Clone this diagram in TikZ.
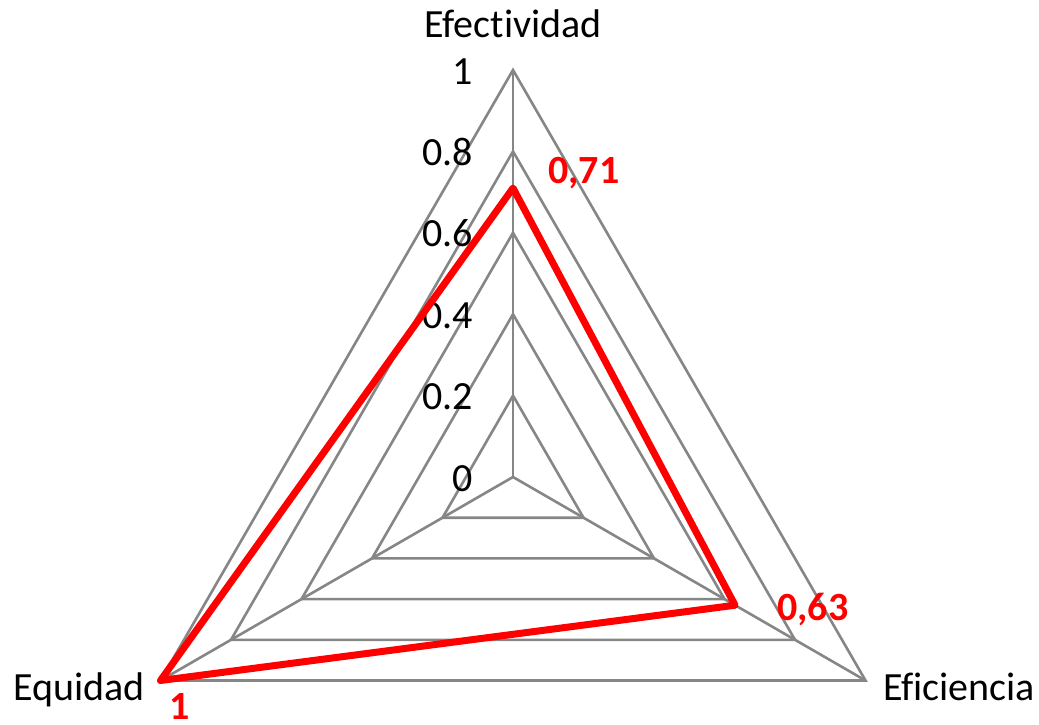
\documentclass[tikz,border=0pt]{standalone}
\usepackage{fontspec}
\setmainfont[Ligatures=NoCommon]{Carlito}
\usetikzlibrary{calc}
\definecolor{gridgray}{RGB}{134,134,134}
\begin{document}
\begin{tikzpicture}[x=1pt,y=-1pt,
  grid/.style={draw=gridgray,line width=2.6pt,line join=miter},
  serie/.style={draw=red,line width=7pt,line join=round,line cap=round},
  axlbl/.style={font=\fontsize{40}{44}\selectfont,inner sep=0pt},
  ticklbl/.style={font=\fontsize{40}{44}\selectfont,inner sep=0pt,anchor=base east},
  vallbl/.style={font=\fontsize{40}{44}\selectfont\bfseries,text=red,inner sep=0pt,anchor=base west}]
\useasboundingbox (0,0) rectangle (1039,724);
\coordinate (C) at (513,477);
\coordinate (T) at (513,70);
\coordinate (L) at (160.5,680.5);
\coordinate (R) at (865.5,680.5);
% rings
\foreach \f in {0.2,0.4,0.6,0.8,1} {
  \draw[grid] ($(C)!\f!(T)$) -- ($(C)!\f!(R)$) -- ($(C)!\f!(L)$) -- cycle;
}
% axes
\draw[grid] (C) -- (T);
\draw[grid] (C) -- (R);
\draw[grid] (C) -- (L);
% tick labels
\foreach \f/\t in {0/0,0.2/0.2,0.4/0.4,0.6/0.6,0.8/0.8,1/1} {
  \path ($(C)!\f!(T)$) ++(-40,14) node[ticklbl] (tick\f) {\t};
}
% series
\coordinate (sT) at ($(C)!0.71!(T)$);
\coordinate (sR) at ($(C)!0.63!(R)$);
\coordinate (sL) at ($(C)!1!(L)$);
\draw[serie] (sT) -- (sR) -- (sL) -- cycle;
% axis labels
\node[axlbl,anchor=base] (efec) at (513,37) {Efectividad};
\node[axlbl,anchor=base east] (equi) at (145,700) {Equidad};
\node[axlbl,anchor=base west] (efic) at (883,700) {Eficiencia};
% value labels
\node[vallbl] (v1) at (548,183) {0,71};
\node[vallbl] (v2) at (777,620) {0,63};
\node[vallbl] (v3) at (169,719) {1};
\end{tikzpicture}
\end{document}
